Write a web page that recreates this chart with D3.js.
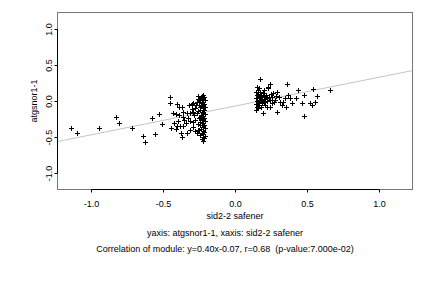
<!DOCTYPE html>
<html>
<head>
<meta charset="utf-8">
<script src="https://cdn.jsdelivr.net/npm/d3@7"></script>
<style>
  body { margin: 0; background: #fff; }
  text { font-family: "Liberation Sans", Arial, sans-serif; font-size: 9px; fill: #000; }
</style>
</head>
<body>
<svg id="chart" width="432" height="288"></svg>
<script>
// scatter values
var outliers = [
    [-1.139, -0.375], [-1.097, -0.444], [-0.942, -0.37], [-0.824, -0.222],
    [-0.803, -0.306], [-0.717, -0.37], [-0.637, -0.486], [-0.623, -0.57],
    [-0.574, -0.236], [-0.553, -0.458], [-0.526, -0.18], [-0.505, -0.32]
];

var leftCluster = [
    [-0.449, 0.06], [-0.449, -0.028], [-0.401, -0.046], [-0.387, -0.079],
    [-0.37, -0.088], [-0.359, -0.149], [-0.428, -0.163], [-0.41, -0.185],
    [-0.389, -0.194], [-0.422, -0.31], [-0.401, -0.347], [-0.444, -0.379],
    [-0.41, -0.389], [-0.382, -0.347], [-0.363, -0.347], [-0.352, -0.264],
    [-0.324, -0.24], [-0.312, -0.274], [-0.294, -0.296], [-0.335, -0.171],
    [-0.312, -0.171], [-0.322, -0.06], [-0.301, -0.042], [-0.29, -0.032],
    [-0.266, -0.01], [-0.255, 0.074], [-0.231, 0.074], [-0.248, 0.014],
    [-0.278, -0.101], [-0.29, -0.149], [-0.266, -0.171], [-0.243, -0.218],
    [-0.278, -0.264], [-0.29, -0.357], [-0.312, -0.403], [-0.331, -0.449],
    [-0.377, -0.44], [-0.37, -0.504], [-0.266, -0.449], [-0.255, -0.403],
    [-0.22, 0.08], [-0.235, 0.06], [-0.215, 0.05], [-0.225, 0.03],
    [-0.24, 0.02], [-0.21, 0.01], [-0.22, -0.01], [-0.23, -0.03],
    [-0.215, -0.04], [-0.235, -0.06], [-0.22, -0.07], [-0.21, -0.09],
    [-0.225, -0.1], [-0.24, -0.12], [-0.215, -0.13], [-0.23, -0.15],
    [-0.22, -0.17], [-0.21, -0.18], [-0.235, -0.2], [-0.22, -0.21],
    [-0.215, -0.23], [-0.23, -0.25], [-0.22, -0.26], [-0.21, -0.28],
    [-0.24, -0.29], [-0.225, -0.31], [-0.215, -0.33], [-0.23, -0.34],
    [-0.22, -0.36], [-0.21, -0.38], [-0.235, -0.39], [-0.22, -0.41],
    [-0.215, -0.43], [-0.23, -0.44], [-0.22, -0.46], [-0.21, -0.48],
    [-0.225, -0.5], [-0.215, -0.52], [-0.23, -0.53], [-0.22, -0.55],
    [-0.25, -0.05], [-0.255, -0.14], [-0.25, -0.23], [-0.26, -0.32],
    [-0.25, -0.4], [-0.245, -0.47], [-0.26, 0.03], [-0.245, -0.09],
    [-0.27, -0.06], [-0.285, -0.2], [-0.3, -0.11], [-0.34, -0.31],
    [-0.36, -0.22], [-0.395, -0.28], [-0.275, -0.42], [-0.24, -0.34]
];

var rightCluster = [
    [0.174, 0.306], [0.243, 0.236], [0.231, 0.199], [0.363, 0.236],
    [0.44, 0.153], [0.544, 0.167], [0.66, 0.153], [0.479, 0.083],
    [0.572, 0.069], [0.37, 0.083], [0.382, 0.037], [0.394, -0.023],
    [0.424, 0.037], [0.465, -0.032], [0.521, -0.032], [0.532, -0.056],
    [0.556, -0.01], [0.481, -0.208], [0.335, -0.01], [0.324, -0.056],
    [0.294, -0.149], [0.197, -0.163], [0.266, 0.115], [0.29, 0.13],
    [0.308, 0.06], [0.278, 0.014], [0.255, -0.032], [0.22, -0.079],
    [0.243, -0.079], [0.347, 0.037], [0.312, -0.01], [0.354, -0.083],
    [0.15, 0.2], [0.162, 0.153], [0.231, 0.176], [0.25, 0.097],
    [0.145, 0.12], [0.15, 0.08], [0.145, 0.04], [0.155, 0.0],
    [0.148, -0.04], [0.152, -0.08], [0.147, -0.12], [0.16, 0.1],
    [0.165, 0.06], [0.17, 0.02], [0.16, -0.02], [0.168, -0.06],
    [0.175, 0.13], [0.18, 0.09], [0.185, 0.05], [0.178, 0.0],
    [0.19, -0.03], [0.182, -0.09], [0.195, 0.11], [0.2, 0.07],
    [0.205, 0.03], [0.198, -0.01], [0.21, -0.05], [0.215, 0.09],
    [0.22, 0.04], [0.225, 0.0], [0.235, 0.06], [0.24, 0.02],
    [0.26, 0.05], [0.27, -0.02], [0.285, 0.07], [0.2, 0.15],
    [0.17, 0.18], [0.158, -0.1], [0.19, 0.02], [0.175, 0.04]
];

var xTicks = [-1.0, -0.5, 0.0, 0.5, 1.0];
var yTicks = [-1.0, -0.5, 0.0, 0.5, 1.0];
var slope = 0.40, intercept = -0.07;

var xTitle = "sid2-2 safener";
var yTitle = "atgsnor1-1";
var subtitle = "yaxis: atgsnor1-1, xaxis: sid2-2 safener";
var caption = "Correlation of module: y=0.40x-0.07, r=0.68  (p-value:7.000e-02)";

var svg = d3.select("#chart");
var plotLeft = 57, plotRight = 413, plotTop = 12, plotBottom = 190;

var x = d3.scaleLinear().domain([-1.236, 1.236]).range([plotLeft, plotRight]);
var y = d3.scaleLinear().domain([-1.236, 1.236]).range([plotBottom, plotTop]);
var fmt = function (d) { return d.toFixed(1); };

svg.append("defs").append("clipPath").attr("id", "clip")
    .append("rect")
    .attr("x", plotLeft).attr("y", plotTop)
    .attr("width", plotRight - plotLeft).attr("height", plotBottom - plotTop);

// fit line
var dom = x.domain();
svg.append("line")
    .attr("clip-path", "url(#clip)")
    .attr("x1", x(dom[0])).attr("y1", y(slope * dom[0] + intercept))
    .attr("x2", x(dom[1])).attr("y2", y(slope * dom[1] + intercept))
    .attr("stroke", "#c4c4c4")
    .attr("stroke-width", 1);

// points as "+"
var points = outliers.concat(leftCluster, rightCluster);
var plus = svg.append("g").attr("stroke", "#000").attr("stroke-width", 1);
plus.selectAll("path")
    .data(points)
    .enter().append("path")
    .attr("d", function (d) {
        var px = Math.round(x(d[0])) + 0.5, py = Math.round(y(d[1])) + 0.5;
        return "M" + (px - 2.5) + "," + py + "H" + (px + 2.5) +
            "M" + px + "," + (py - 2.5) + "V" + (py + 2.5);
    });

// box
svg.append("rect")
    .attr("x", plotLeft + 0.5).attr("y", plotTop + 0.5)
    .attr("width", plotRight - plotLeft - 1).attr("height", plotBottom - plotTop - 1)
    .attr("fill", "none")
    .attr("stroke", "#777");

// axes
var xAxis = d3.axisBottom(x).tickValues(xTicks).tickSize(3).tickPadding(8).tickFormat(fmt);
var gx = svg.append("g").attr("transform", "translate(0," + (plotBottom - 0.5) + ")").call(xAxis);
gx.select(".domain").attr("d", "M" + x(xTicks[0]) + ",0H" + x(xTicks[xTicks.length - 1]));

var yAxis = d3.axisLeft(y).tickValues(yTicks).tickSize(3).tickFormat(fmt);
var gy = svg.append("g").attr("transform", "translate(" + (plotLeft + 0.5) + ",0)").call(yAxis);
gy.select(".domain").attr("d", "M0," + y(yTicks[0]) + "V" + y(yTicks[yTicks.length - 1]));
gy.selectAll(".tick text")
    .attr("x", 0).attr("dy", 0)
    .attr("transform", "translate(-5.5,0) rotate(-90)")
    .attr("text-anchor", "middle");

svg.selectAll(".tick text").style("font-family", "'Liberation Sans', Arial, sans-serif").style("font-size", "9px");

svg.append("text")
    .attr("x", (plotLeft + plotRight) / 2).attr("y", 219)
    .attr("text-anchor", "middle")
    .text(xTitle);

svg.append("text")
    .attr("transform", "translate(36.5," + ((plotTop + plotBottom) / 2) + ") rotate(-90)")
    .attr("text-anchor", "middle")
    .text(yTitle);

svg.append("text")
    .attr("x", 225).attr("y", 235.5)
    .attr("text-anchor", "middle")
    .text(subtitle);

svg.append("text")
    .attr("x", 225).attr("y", 252)
    .attr("text-anchor", "middle")
    .style("white-space", "pre")
    .text(caption);
</script>
</body>
</html>
